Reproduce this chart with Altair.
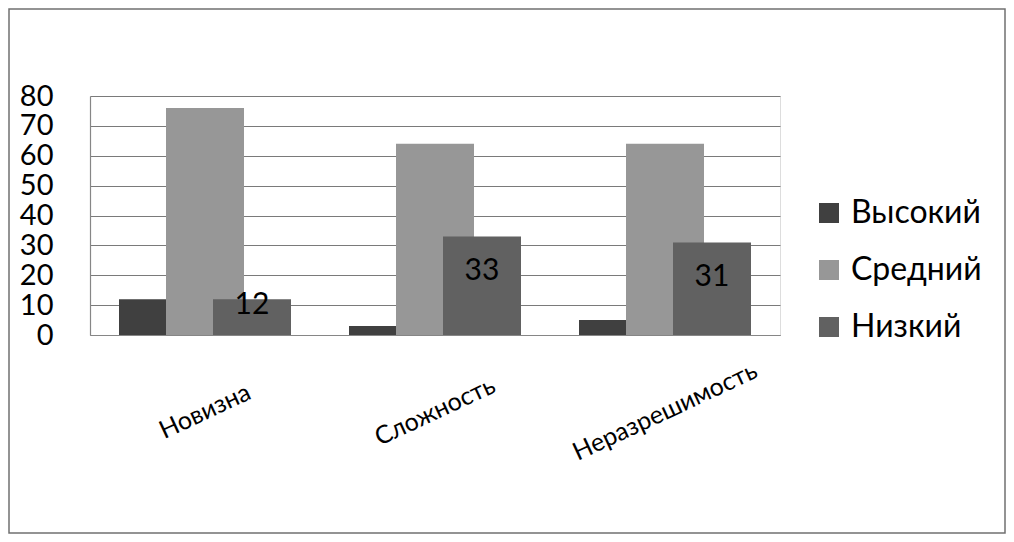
import altair as alt
import pandas as pd

categories = ["Новизна", "Сложность", "Неразрешимость"]
levels = ["Высокий", "Средний", "Низкий"]
vysokiy = [12, 3, 5]
sredniy = [76, 64, 64]
nizkiy = [12, 33, 31]
y_ticks = [0, 10, 20, 30, 40, 50, 60, 70, 80]
colors = ["#404040", "#979797", "#616161"]

rows = []
for lvl, vals in zip(levels, [vysokiy, sredniy, nizkiy]):
    for c, v in zip(categories, vals):
        rows.append({"cat": c, "level": lvl, "value": v})
df = pd.DataFrame(rows)

FONT = "Lato"

x_enc = alt.X(
    "cat:N",
    scale=alt.Scale(domain=categories, paddingInner=0, paddingOuter=0),
    sort=categories,
    axis=alt.Axis(
        title=None,
        labelAngle=-25,
        labelAlign="center",
        labelBaseline="middle",
        labelPadding=76,
        labelFontSize=25,
        labelColor="#000000",
        labelFont=FONT,
        labelLimit=0,
        labelOverlap=False,
        ticks=False,
        tickSize=0,
        domainColor="#868686",
        domainWidth=1.2,
        grid=False,
    ),
)


def y_enc(field):
    return alt.Y(
        field,
        scale=alt.Scale(domain=[0, 80], nice=False),
        axis=alt.Axis(
            title=None,
            values=y_ticks,
            labelFontSize=29,
            labelFont=FONT,
            labelColor="#000000",
            labelPadding=37,
            labelOverlap=False,
            labelFlush=False,
            ticks=False,
            tickSize=0,
            domainColor="#868686",
            domainWidth=1.2,
            grid=True,
            gridColor="#7a7a7a",
            gridWidth=1.2,
        ),
    )


color_enc = alt.Color(
    "level:N",
    scale=alt.Scale(domain=levels, range=colors),
    legend=alt.Legend(
        title=None,
        orient="none",
        legendX=723,
        legendY=101,
        padding=0,
        symbolType="square",
        symbolSize=400,
        symbolStrokeWidth=0,
        labelFontSize=32,
        labelFont=FONT,
        labelColor="#000000",
        labelOffset=6,
        rowPadding=25,
        labelLimit=300,
    ),
)

base = alt.Chart(df)

offsets = {"Высокий": -47, "Средний": 0, "Низкий": 47}
bar_layers = []
for lvl in levels:
    bar_layers.append(
        base.transform_filter(alt.datum.level == lvl)
        .mark_bar(width=78, xOffset=offsets[lvl])
        .encode(x=x_enc, y=y_enc("value:Q"), color=color_enc)
    )

labels = (
    base.transform_filter(alt.datum.level == "Низкий")
    .transform_calculate(ly="max(datum.value - 11.7, 10)")
    .mark_text(
        xOffset=47,
        align="center",
        baseline="middle",
        fontSize=30,
        font=FONT,
        color="#000000",
    )
    .encode(x=x_enc, y=y_enc("ly:Q"), text=alt.Text("value:Q"))
)

border = (
    alt.Chart(pd.DataFrame({"k": [0]}))
    .mark_rect(fill="white", fillOpacity=0, stroke="#707070", strokeWidth=1.5)
    .encode(
        x=alt.value(-81),
        x2=alt.value(915),
        y=alt.value(-87),
        y2=alt.value(437),
    )
)

chart = (
    alt.layer(border, *bar_layers, labels)
    .properties(
        width=690,
        height=239,
        padding={"left": 82, "top": 88, "right": 226, "bottom": 199},
        autosize=alt.AutoSizeParams(type="none"),
        background="white",
    )
    .configure_view(stroke="transparent")
    .configure(font=FONT)
)

chart.save("out.html", embed_options={"renderer": "svg", "actions": False})
